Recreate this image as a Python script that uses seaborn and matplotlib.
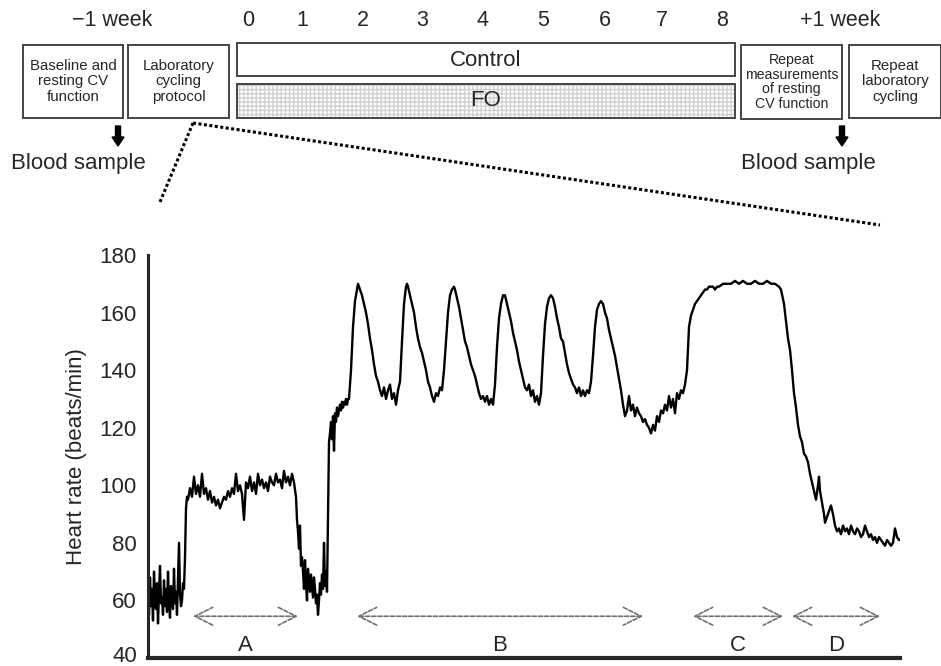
import matplotlib
matplotlib.use("Agg")
import matplotlib.pyplot as plt
import matplotlib.patches as mpatches
import matplotlib.transforms as mtransforms
import numpy as np
import pandas as pd
import seaborn as sns

# heart rate trace (time in arbitrary units, hr in beats/min)
trace_t = [0, 1, 2, 3, 4, 5, 6, 7, 8, 9, 10, 11, 12, 13, 14, 15, 16, 17, 18, 19,
           20, 21, 22, 23, 24, 25, 26, 27, 28, 29, 30, 31, 32, 33, 34, 35, 36,
           37, 38, 39,
           40, 42, 44, 46, 48, 50, 52, 54, 56, 58, 60, 62, 64, 66, 68, 70, 72, 74, 76, 78,
           80, 82, 84, 86, 88, 90, 92, 94, 96, 98, 100, 102, 104, 106, 108, 110, 112, 114,
           116, 118, 120, 122, 124, 126, 128, 130, 132, 134, 136, 138, 140, 142, 144, 146,
           148, 149, 150, 151, 152, 153, 154,
           155, 156, 157, 158, 159, 160, 161, 162, 163, 164, 165, 166, 167, 168, 169, 170,
           171, 172, 173, 174, 175, 176, 177, 178, 179,
           180, 181, 182, 183, 184, 185, 186, 187, 188, 189, 190, 191, 192, 193, 194, 195,
           196, 197, 198, 199, 200, 201,
           203, 205, 207, 209, 210, 211, 212, 214, 216, 218, 220, 222, 224, 226, 228, 230,
           232, 234, 236, 238, 240, 242, 244, 246, 248, 250, 252,
           254, 256, 258, 259, 260, 262, 264, 266, 268, 270, 272, 274, 276, 278, 280, 282,
           284, 286, 288, 290, 292, 294,
           296, 298, 300, 302, 304, 306, 307, 309, 311, 313, 315, 317, 319, 321, 323, 325,
           327, 329, 331, 333, 335, 337, 339, 341, 343, 345,
           347, 349, 351, 353, 355, 357, 359, 361, 363, 365, 367, 369, 371, 373, 375, 377,
           379, 381, 383, 385, 387, 389,
           391, 393, 395, 397, 399, 401, 403, 405, 407, 409, 411, 413, 415, 417, 419, 421,
           423, 425, 427, 429, 431, 433, 435, 437, 439,
           441, 443, 445, 447, 449, 451, 453, 455, 457, 459, 461, 463, 465, 467, 469, 471,
           473, 475, 477, 479, 481, 483, 485, 487, 489, 491, 493, 495, 497, 499, 501, 503,
           505, 507, 509, 511, 513, 515, 517, 519, 521, 523, 525, 527, 529, 531, 533, 535, 537,
           539, 541, 543, 545, 547, 549, 551, 553, 555, 557, 559, 561, 563, 565, 567, 569,
           571, 575, 579, 583, 587, 591, 595, 599, 603, 607, 611, 615, 619, 623, 627, 631, 633,
           636, 638, 640, 642, 644, 646, 648, 650, 652, 654, 656, 658, 660, 662, 664, 666,
           668, 670, 671, 672, 674, 676, 677, 679, 681, 683, 685, 687, 689, 691, 693, 695,
           697, 699, 701, 703, 705, 707, 709, 711, 713, 715, 717, 719, 721, 723, 725, 727,
           729, 731, 733, 735, 737, 739, 741, 743, 745, 747, 749, 751, 752]
trace_hr = [62, 55, 68, 58, 64, 53, 70, 60, 57, 66, 52, 63, 72, 59, 61, 55, 67, 58, 64, 56,
            70, 60, 54, 65, 61, 57, 71, 59, 63, 55, 68, 80, 62, 58, 60, 66, 64,
            75, 92, 96,
            95, 99, 96, 103, 97, 100, 96, 104, 97, 99, 95, 98, 94, 96, 93, 95, 92, 94, 96, 95,
            98, 96, 99, 97, 104, 98, 100, 97, 88, 101, 99, 103, 98, 101, 97, 104, 100, 102,
            99, 101, 98, 103, 101, 100, 104, 101, 102, 99, 105, 101, 103, 100, 104, 101,
            96, 88, 84, 78, 86, 72, 75,
            70, 64, 74, 66, 60, 71, 67, 63, 69, 65, 61, 68, 64, 59, 62, 55,
            60, 66, 62, 69, 64, 80, 65, 70, 63,
            90, 115, 118, 122, 116, 124, 112, 125, 122, 127, 124, 126, 128, 126, 129, 127,
            129, 128, 130, 128, 130, 130,
            140, 155, 164, 168, 170, 169, 168, 166, 163, 160, 156, 151, 147, 142, 138, 136,
            133, 131, 134, 130, 133, 135, 130, 132, 128, 133, 136,
            150, 163, 169, 170, 169, 166, 163, 160, 155, 151, 148, 146, 143, 140, 136, 134,
            131, 129, 132, 131, 134, 133,
            140, 150, 160, 166, 168, 169, 168, 165, 162, 158, 154, 150, 148, 145, 142, 140,
            138, 135, 132, 130, 131, 129, 131, 128, 130, 128,
            135, 148, 158, 163, 166, 166, 163, 160, 157, 153, 150, 147, 143, 140, 137, 134,
            133, 135, 131, 133, 129, 131,
            128, 132, 145, 156, 162, 165, 166, 165, 162, 158, 155, 151, 150, 146, 142, 139,
            137, 135, 134, 132, 134, 131, 133, 131, 133,
            132, 136, 145, 155, 161, 163, 164, 163, 160, 158, 154, 151, 148, 145, 141, 137,
            133, 128, 124, 126, 131, 126, 128, 124, 127, 125, 124, 122, 123, 121, 120, 118,
            121, 119, 124, 122, 126, 125, 128, 126, 131, 127, 130, 125, 132, 130, 133, 132, 135,
            140, 155, 159, 161, 163, 164, 165, 166, 167, 168, 168, 169, 169, 169, 168, 169,
            169, 170, 170, 170, 171, 170, 171, 170, 170, 171, 170, 170, 171, 170, 170, 169, 168,
            163, 157, 151, 147, 140, 132, 127, 121, 117, 115, 111, 110, 108, 104, 101, 98,
            95, 100, 103, 98, 94, 90, 87, 89, 91, 93, 90, 86, 84, 85, 83, 86,
            84, 85, 83, 86, 84, 83, 85, 84, 82, 83, 86, 84, 82, 83, 81, 82,
            80, 82, 81, 80, 79, 81, 80, 79, 80, 85, 82, 81, 81]

# exercise phases marked under the trace
phase_labels = ["A", "B", "C", "D"]
phase_start = [45, 209, 545, 644]
phase_end = [150, 495, 635, 732]

# study design timeline
week_labels = ["0", "1", "2", "3", "4", "5", "6", "7", "8"]

df = pd.DataFrame({"time": trace_t, "hr": trace_hr})

sns.set_style("ticks")
plt.rcParams["font.family"] = ["Liberation Sans", "DejaVu Sans"]

fig = plt.figure(figsize=(9.41, 6.66), dpi=100)

# main heart rate panel
ax = fig.add_axes([148 / 941, 8 / 666, 752 / 941, 403 / 666])
sns.lineplot(data=df, x="time", y="hr", ax=ax, color="black", lw=1.7,
             estimator=None, sort=False)
ax.set_xlim(0, 752)
ax.set_ylim(40, 180)
ax.set_yticks(range(40, 181, 20))
ax.set_xticks([])
ax.set_xlabel("")
ax.set_ylabel("Heart rate (beats/min)", fontsize=16, labelpad=9)
ax.tick_params(axis="y", length=0, pad=8, labelsize=16)
sns.despine(ax=ax)
ax.spines["left"].set_linewidth(2.2)
ax.spines["bottom"].set_linewidth(3)

# lift the lowest tick label a little so it stays inside the figure
lowest = ax.get_yticklabels()[0]
lowest.set_transform(lowest.get_transform()
                     + mtransforms.ScaledTranslation(0, 3 / 72, fig.dpi_scale_trans))

for lab, s, e in zip(phase_labels, phase_start, phase_end):
    ax.annotate("", xy=(s, 54.5), xytext=(e, 54.5),
                arrowprops=dict(arrowstyle="<->", color="#6f6f6f", lw=1.2,
                                linestyle=(0, (2.5, 1.2)), mutation_scale=32,
                                shrinkA=0, shrinkB=0))
    ax.text((s + e) / 2, 44.5, lab, ha="center", va="center", fontsize=16)

# overlay in pixel coordinates for the study design diagram
ov = fig.add_axes([0, 0, 1, 1], zorder=-1)
ov.set_xlim(0, 941)
ov.set_ylim(666, 0)
ov.axis("off")

ov.text(112, 20, "\u22121 week", ha="center", va="center", fontsize=15.5)
ov.text(840, 20, "+1 week", ha="center", va="center", fontsize=15.5)
week_x = [248, 302, 363, 422, 483, 543, 605, 662, 722]
for wx, wl in zip(week_x, week_labels):
    ov.text(wx, 20, wl, ha="center", va="center", fontsize=15.5)

edge = "#444444"
boxes = [
    (23, 45, 100, 73, "Baseline and\nresting CV\nfunction", 10.8, 1.1),
    (128, 45, 101, 73, "Laboratory\ncycling\nprotocol", 10.8, 1.1),
    (741, 45, 101, 74, "Repeat\nmeasurements\nof resting\nCV function", 10.2, 1.05),
    (849, 45, 92, 73, "Repeat\nlaboratory\ncycling", 10.8, 1.1),
]
for bx, by, bw, bh, txt, fs, lsp in boxes:
    ov.add_patch(mpatches.Rectangle((bx, by), bw, bh, fill=False, ec=edge, lw=1.4))
    ov.text(bx + bw / 2, by + bh / 2, txt, ha="center", va="center",
            fontsize=fs, linespacing=lsp)

ov.add_patch(mpatches.Rectangle((237, 43), 498, 33, fill=False, ec=edge, lw=1.4))
ov.text(486, 60, "Control", ha="center", va="center", fontsize=16)
ov.add_patch(mpatches.Rectangle((237, 84), 498, 34, facecolor="white",
                                edgecolor="#d0d0d0", hatch="++++", lw=0))
ov.add_patch(mpatches.Rectangle((237, 84), 498, 34, fill=False, ec=edge, lw=1.4))
ov.text(486, 101, "FO", ha="center", va="center", fontsize=16)

for ax_x, lab_x in [(118, 78), (842, 808)]:
    ov.add_patch(mpatches.FancyArrow(ax_x, 126, 0, 20, width=5, head_width=12,
                                     head_length=9, length_includes_head=True,
                                     color="black"))
    ov.text(lab_x, 163, "Blood sample", ha="center", va="center", fontsize=16)

ov.plot([193, 160], [123, 202], color="black", lw=2.2, ls=(0, (1, 0.8)))
ov.plot([193, 880], [123, 225], color="black", lw=2.2, ls=(0, (1, 0.8)))

fig.savefig("out.png", dpi=100)
